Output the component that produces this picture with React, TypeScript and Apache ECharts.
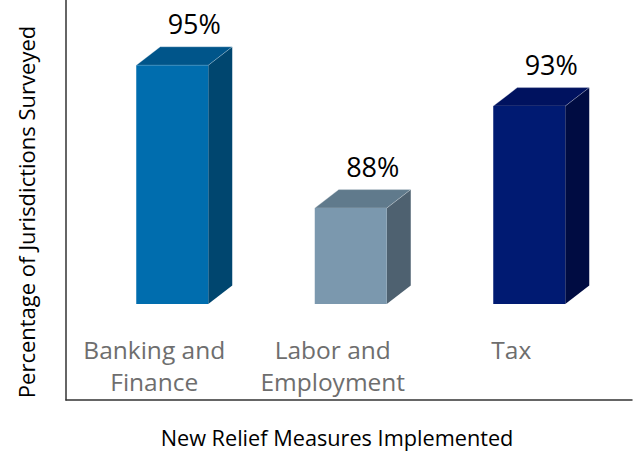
import React, { useEffect, useRef } from "react";
import * as echarts from "echarts";

const categories = ["Banking and\nFinance", "Labor and\nEmployment", "Tax"];
const values = [95, 88, 93];
const valueLabels = ["95%", "88%", "93%"];
const frontColors = ["#006DAE", "#7B98AE", "#001A72"];
const topColors = ["#00558A", "#607A8C", "#00125F"];
const sideColors = ["#00466F", "#4E6170", "#000C42"];

const FONT = "'Open Sans', 'Noto Sans', sans-serif";
const BASE_VALUE = 83.3;

export default function App() {
  const ref = useRef<HTMLDivElement>(null);
  useEffect(() => {
    if (!ref.current) return;
    const chart = echarts.init(ref.current, undefined, { renderer: "svg" });
    const W = 72;
    const DX = 24;
    const DY = 18.5;
    const OFF = 18;
    chart.setOption({
      animation: false,
      backgroundColor: "#ffffff",
      grid: [
        { left: 66, right: 1, top: 0, bottom: 42 },
        { left: 65, width: 535.5, top: 0, bottom: 149 },
      ],
      xAxis: [
        {
          gridIndex: 0,
          type: "value",
          min: 0,
          max: 1,
          axisLine: { show: true, lineStyle: { color: "#333333", width: 1.5 } },
          axisTick: { show: false },
          axisLabel: { show: false },
          splitLine: { show: false },
          name: "New Relief Measures Implemented",
          nameLocation: "middle",
          nameGap: 26,
          nameTextStyle: { fontFamily: FONT, fontSize: 21.7, color: "#000000", padding: [0, 24, 0, 0] },
        },
        {
          gridIndex: 1,
          type: "category",
          data: categories,
          axisLine: { show: false },
          axisTick: { show: false },
          axisLabel: {
            margin: 29,
            fontFamily: FONT,
            fontSize: 24.5,
            lineHeight: 32,
            color: "#6E6E6E",
            interval: 0,
          },
        },
      ],
      yAxis: [
        {
          gridIndex: 0,
          type: "value",
          min: 0,
          max: 1,
          axisLine: { show: true, lineStyle: { color: "#333333", width: 1.5 } },
          axisTick: { show: false },
          axisLabel: { show: false },
          splitLine: { show: false },
          name: "Percentage of Jurisdictions Surveyed",
          nameLocation: "middle",
          nameGap: 29,
          nameTextStyle: { fontFamily: FONT, fontSize: 22, color: "#000000", padding: [0, 24, 0, 0] },
        },
        {
          gridIndex: 1,
          type: "value",
          min: BASE_VALUE,
          max: 98.2,
          show: false,
        },
      ],
      series: [
        {
          type: "custom",
          xAxisIndex: 1,
          yAxisIndex: 1,
          data: values.map((v, i) => [i, v]),
          renderItem: (params: any, api: any) => {
            const i = api.value(0);
            const v = api.value(1);
            const top = api.coord([i, v]);
            const bottom = api.coord([i, BASE_VALUE]);
            const xc = top[0] + OFF;
            const x0 = xc - W / 2;
            const x1 = xc + W / 2;
            const yt = top[1];
            const yb = bottom[1];
            return {
              type: "group",
              children: [
                {
                  type: "polygon",
                  shape: {
                    points: [
                      [x1, yt],
                      [x1 + DX, yt - DY],
                      [x1 + DX, yb - DY],
                      [x1, yb],
                    ],
                  },
                  style: { fill: sideColors[i] },
                },
                {
                  type: "polygon",
                  shape: {
                    points: [
                      [x0, yt],
                      [x0 + DX, yt - DY],
                      [x1 + DX, yt - DY],
                      [x1, yt],
                    ],
                  },
                  style: { fill: topColors[i], stroke: "rgba(255,255,255,0.35)", lineWidth: 0.8 },
                },
                {
                  type: "rect",
                  shape: { x: x0, y: yt, width: W, height: yb - yt },
                  style: { fill: frontColors[i] },
                },
                {
                  type: "text",
                  x: xc + 22,
                  y: yt - DY - 23,
                  style: {
                    text: valueLabels[i],
                    fontFamily: FONT,
                    fontSize: 27,
                    fill: "#000000",
                    align: "center",
                    verticalAlign: "middle",
                  },
                },
              ],
            };
          },
        },
      ],
    });
    return () => chart.dispose();
  }, []);
  return (
    <div
      ref={ref}
      style={{ position: "fixed", left: 0, top: 0, width: 633, height: 453 }}
    />
  );
}
